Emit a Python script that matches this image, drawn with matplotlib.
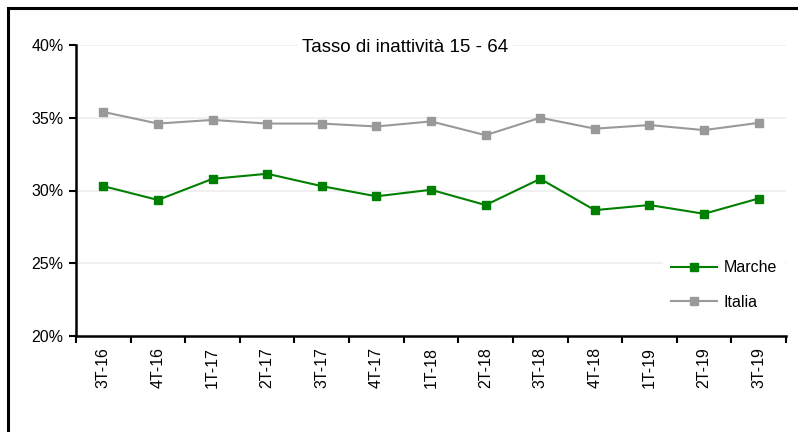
import matplotlib
matplotlib.use("Agg")
import matplotlib.pyplot as plt
import numpy as np
from matplotlib.patches import Rectangle

plt.rcParams['font.family'] = ['Liberation Sans', 'DejaVu Sans']

categories = ["3T-16", "4T-16", "1T-17", "2T-17", "3T-17", "4T-17", "1T-18",
              "2T-18", "3T-18", "4T-18", "1T-19", "2T-19", "3T-19"]
marche = [30.3, 29.35, 30.8, 31.15, 30.3, 29.6, 30.05, 29.0, 30.8, 28.65, 29.0, 28.4, 29.45]
italia = [35.4, 34.6, 34.85, 34.6, 34.6, 34.4, 34.75, 33.8, 35.0, 34.25, 34.5, 34.15, 34.65]
yticks = [20, 25, 30, 35, 40]
title = "Tasso di inattività 15 - 64"

fig = plt.figure(figsize=(7.98, 4.32), dpi=100)
fig.patches.append(Rectangle((8/798, -0.1), 1.2, (432-8)/432 + 0.1,
                             transform=fig.transFigure, fill=False,
                             edgecolor='black', linewidth=2.2, zorder=0))
ax = fig.add_axes([76/798, 1-336/432, (786-76)/798, (336-45)/432])

x = np.arange(len(categories))
ax.plot(x, marche, color='#008000', marker='s', markersize=6, linewidth=1.5,
        label='Marche', zorder=3)
ax.plot(x, italia, color='#999999', marker='s', markersize=6, linewidth=1.5,
        label='Italia', zorder=3)

ax.set_xlim(-0.5, len(categories) - 0.5)
ax.set_ylim(20, 40)
ax.set_yticks(yticks)
ax.set_yticklabels([f"{v}%" for v in yticks], fontsize=11.5)
for v in yticks[1:]:
    ax.axhline(v, color='#eeeeee', linewidth=1.2, zorder=1)

ax.set_xticks(x)
ax.set_xticklabels(categories, rotation=90, fontsize=11.5)
ax.set_xticks(np.arange(-0.5, len(categories)), minor=True)
ax.tick_params(axis='x', which='major', length=0, pad=8)
ax.tick_params(axis='x', which='minor', length=5, width=1.5, direction='out')
ax.tick_params(axis='y', length=5, width=1.5, direction='out', pad=4)

for s in ['top', 'right']:
    ax.spines[s].set_visible(False)
for s in ['left', 'bottom']:
    ax.spines[s].set_linewidth(1.8)

ax.text(0.464, 0.99, title, transform=ax.transAxes, ha='center', va='center',
        fontsize=13.5, bbox=dict(facecolor='white', edgecolor='none', pad=3), zorder=4)

leg = ax.legend(loc='center left', bbox_to_anchor=(0.815, 0.175), frameon=True,
                fontsize=11.5, handlelength=2.9, handletextpad=0.4, labelspacing=1.2,
                borderpad=0.5, markerscale=0.9, edgecolor='none', fancybox=False)
leg.get_frame().set_alpha(1)

fig.savefig("out.png", dpi=100)
